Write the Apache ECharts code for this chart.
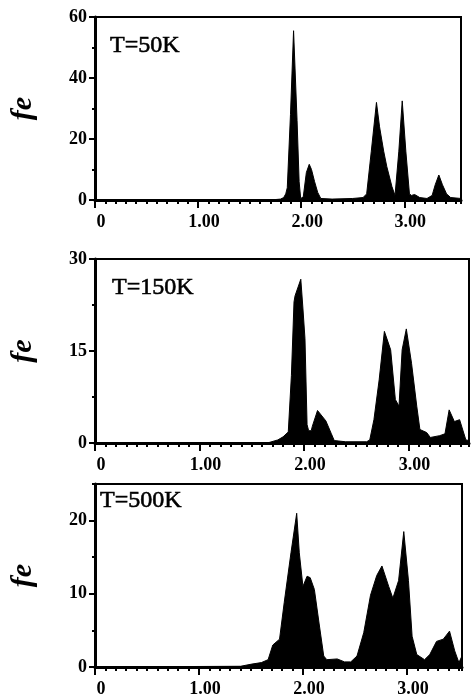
<!DOCTYPE html>
<html>
<head>
<meta charset="utf-8">
<script src="https://cdn.jsdelivr.net/npm/echarts@6/dist/echarts.min.js"></script>
<style>
  html, body { margin: 0; padding: 0; background: #fff; }
  #main { width: 473px; height: 698px; }
</style>
</head>
<body>
<div id="main"></div>
<script>
// T=50K
const xs1 = [0, 1.70, 1.80, 1.83, 1.85, 1.865, 1.896, 1.926, 1.96, 1.98, 1.995, 2.02, 2.05, 2.078, 2.10, 2.13, 2.16, 2.19, 2.30, 2.50, 2.60, 2.635, 2.68, 2.73, 2.76, 2.80, 2.83, 2.88, 2.91, 2.947, 2.98, 3.015, 3.05, 3.07, 3.10, 3.15, 3.22, 3.27, 3.30, 3.335, 3.37, 3.41, 3.45, 3.55]
const fe1 = [0, 0, 0.3, 0.8, 2, 4, 28, 55.5, 26, 6, 0.5, 1, 9, 11.7, 10, 6, 2.5, 0.5, 0.3, 0.5, 0.8, 2, 16, 32, 24, 16, 11, 4.4, 1.5, 16, 32.5, 16, 2, 1.5, 1.8, 0.8, 0.5, 1.5, 5, 8.2, 5, 2, 0.8, 0.5]
// T=150K
const xs2 = [0, 1.65, 1.75, 1.80, 1.85, 1.86, 1.88, 1.905, 1.915, 1.97, 1.99, 2.01, 2.03, 2.045, 2.07, 2.08, 2.13, 2.21, 2.26, 2.29, 2.40, 2.60, 2.63, 2.67, 2.72, 2.77, 2.83, 2.875, 2.91, 2.94, 2.98, 3.03, 3.08, 3.11, 3.175, 3.21, 3.30, 3.35, 3.39, 3.44, 3.49, 3.55, 3.58]
const fe2 = [0, 0, 0.5, 1.0, 1.8, 2, 11, 23, 24, 26.7, 22, 17, 3, 2, 2, 2.7, 5.3, 3.6, 1.6, 0.4, 0.2, 0.2, 0.5, 3.8, 10.3, 18.2, 15.2, 7.1, 6.0, 15.2, 18.6, 13, 6, 2.2, 1.7, 0.9, 1.2, 1.5, 5.4, 3.5, 3.8, 0.5, 0.4]
// T=500K
const xs3 = [0, 1.40, 1.51, 1.60, 1.665, 1.71, 1.775, 1.82, 1.885, 1.94, 1.965, 2.0, 2.04, 2.07, 2.11, 2.155, 2.20, 2.23, 2.33, 2.40, 2.46, 2.52, 2.585, 2.65, 2.71, 2.76, 2.825, 2.865, 2.92, 2.97, 3.015, 3.05, 3.095, 3.17, 3.22, 3.285, 3.35, 3.41, 3.46, 3.50, 3.53]
const fe3 = [0, 0.1, 0.4, 0.6, 1.0, 3.0, 3.8, 8.8, 15.6, 21.0, 15.6, 11.0, 12.4, 12.2, 10.6, 6.0, 1.5, 1.0, 1.1, 0.7, 0.7, 1.5, 4.7, 9.8, 12.5, 13.8, 11.0, 9.4, 11.8, 18.5, 11.8, 4.2, 1.7, 1.0, 1.7, 3.5, 3.8, 4.9, 2.2, 0.6, 1.5]

// tick values
const xTicks = [0, 1, 2, 3]
const yTicks1 = [0, 20, 40, 60]
const yTicks2 = [0, 15, 30]
const yTicks3 = [0, 10, 20]

const panels = [
  { xs: xs1, ys: fe1, label: 'T=50K', yTicks: yTicks1, yMax: 60, yMinor: 10, xMax: 3.55,
    left: 92, top: 17, width: 369, height: 183, tLeft: 110, tTop: 34 },
  { xs: xs2, ys: fe2, label: 'T=150K', yTicks: yTicks2, yMax: 30, yMinor: 7.5, xMax: 3.58,
    left: 92, top: 259, width: 377, height: 184, tLeft: 112, tTop: 276 },
  { xs: xs3, ys: fe3, label: 'T=500K', yTicks: yTicks3, yMax: 25, yMinor: 5, xMax: 3.53,
    left: 92, top: 484, width: 370, height: 184, tLeft: 100, tTop: 489 }
]

const serif = 'Liberation Serif'
const tickFont = { fontFamily: serif, fontWeight: 'bold', fontSize: 18, color: '#000' }

const grid = [], xAxis = [], yAxis = [], series = [], title = []
panels.forEach((p, i) => {
  grid.push({ left: p.left, top: p.top, width: p.width, height: p.height,
    show: true, borderColor: '#000', borderWidth: 2 })
  title.push({ text: p.label, left: p.tLeft, top: p.tTop, padding: 0,
    textStyle: { fontFamily: serif, fontWeight: 'normal', fontSize: 24, color: '#000',
      textBorderColor: '#000', textBorderWidth: 0.6 } })

  // major x
  xAxis.push({
    type: 'value', gridIndex: i, position: 'bottom', min: 0, max: p.xMax,
    axisLine: { show: true, onZero: false, lineStyle: { color: '#000', width: 3 } },
    axisTick: { show: true, customValues: xTicks, length: 8, lineStyle: { color: '#000', width: 2 } },
    axisLabel: Object.assign({ customValues: xTicks, margin: 13, padding: [0, 0, 0, 12],
      formatter: v => v === 0 ? '0' : v.toFixed(2) }, tickFont),
    splitLine: { show: false }
  })
  // minor x ticks
  xAxis.push({
    type: 'value', gridIndex: i, position: 'bottom', min: 0, max: p.xMax, interval: 0.1,
    axisLine: { show: false },
    axisTick: { show: true, length: 4, lineStyle: { color: '#000', width: 2 } },
    axisLabel: { show: false }, splitLine: { show: false }
  })
  // major y
  yAxis.push({
    type: 'value', gridIndex: i, position: 'left', min: 0, max: p.yMax,
    axisLine: { show: true, onZero: false, lineStyle: { color: '#000', width: 3 } },
    axisTick: { show: true, customValues: p.yTicks, length: 6, lineStyle: { color: '#000', width: 2 } },
    axisLabel: Object.assign({ customValues: p.yTicks, margin: 8 }, tickFont),
    splitLine: { show: false },
    name: 'fe', nameLocation: 'middle', nameRotate: 90, nameGap: 57,
    nameTextStyle: { fontFamily: serif, fontStyle: 'italic', fontWeight: 'bold', fontSize: 30, color: '#000' }
  })
  // minor y ticks
  yAxis.push({
    type: 'value', gridIndex: i, position: 'left', min: 0, max: p.yMax, interval: p.yMinor,
    axisLine: { show: false },
    axisTick: { show: true, length: 3, lineStyle: { color: '#000', width: 2 } },
    axisLabel: { show: false }, splitLine: { show: false }
  })

  series.push({
    type: 'line', xAxisIndex: i * 2, yAxisIndex: i * 2,
    data: p.xs.map((x, k) => [x, p.ys[k]]),
    showSymbol: false, smooth: false,
    lineStyle: { color: '#000', width: 1 },
    areaStyle: { color: '#000', opacity: 1 }
  })
})

const chart = echarts.init(document.getElementById('main'))
chart.setOption({
  animation: false,
  backgroundColor: '#fff',
  title, grid, xAxis, yAxis, series
})
</script>
</body>
</html>
